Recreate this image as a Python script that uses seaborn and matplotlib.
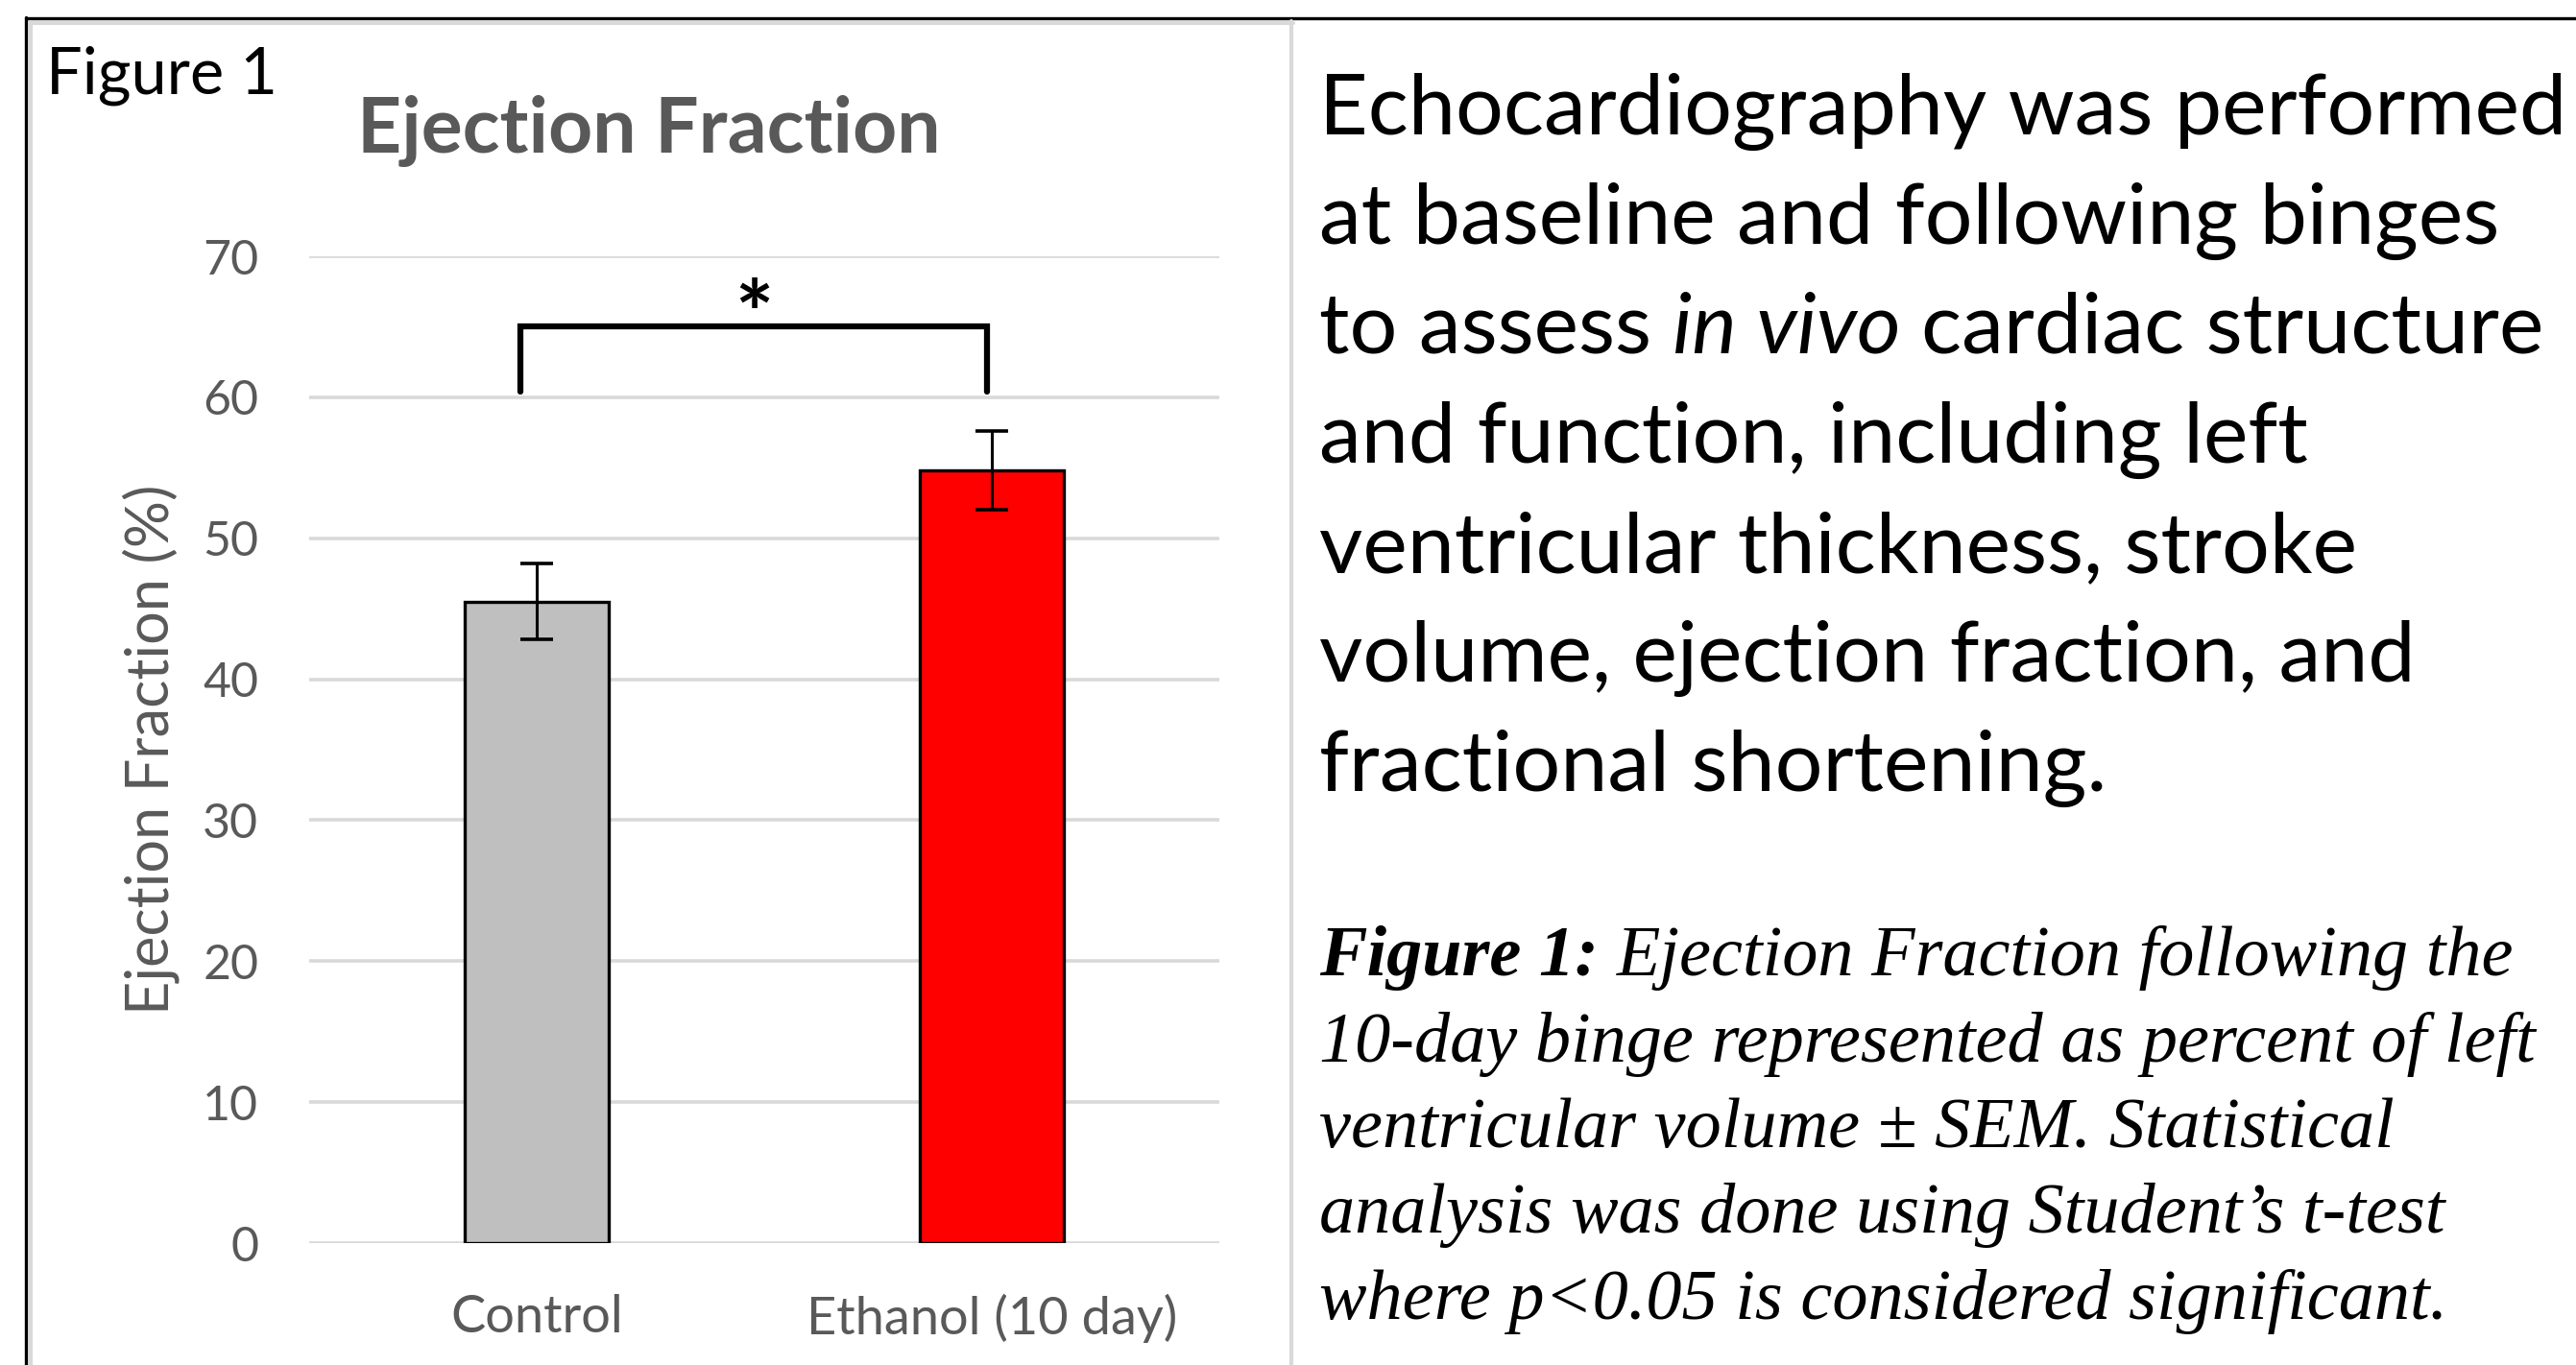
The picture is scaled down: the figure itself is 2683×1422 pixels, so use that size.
import matplotlib
matplotlib.use("Agg")
import matplotlib.pyplot as plt
import seaborn as sns
import pandas as pd
from matplotlib.lines import Line2D

# ---------------- data ----------------
categories = ["Control", "Ethanol (10 day)"]
ef_mean = [45.5, 54.8]
ef_sem = [2.7, 2.8]
bar_colors = ["#bfbfbf", "#ff0000"]
y_ticks = [0, 10, 20, 30, 40, 50, 60, 70]
sig_text = "*"

chart_title = "Ejection Fraction"
y_label = "Ejection Fraction (%)"
panel_label = "Figure 1"

body_lines = [
    [("Echocardiography was performed", "n")],
    [("at baseline and following binges", "n")],
    [("to assess", "n"), ("in vivo", "i"), ("cardiac structure", "n")],
    [("and function, including left", "n")],
    [("ventricular thickness, stroke", "n")],
    [("volume, ejection fraction, and", "n")],
    [("fractional shortening.", "n")],
]
caption_lines = [
    [("Figure 1:", "b"), ("Ejection Fraction following the", "i")],
    [("10-day binge represented as percent of left", "i")],
    [("ventricular volume \u00b1 SEM. Statistical", "i")],
    [("analysis was done using Student\u2019s t-test", "i")],
    [("where p<0.05 is considered significant.", "i")],
]

# ---------------- figure ----------------
sns.set_theme(style="white")
plt.rcParams["font.family"] = ["Lato", "DejaVu Sans"]

W, H = 2683, 1422
fig = plt.figure(figsize=(W / 100, H / 100), dpi=100)
fig.patch.set_facecolor("white")

ax_l, ax_r, ax_t, ax_b = 322, 1270, 267, 1295
ax = fig.add_axes([ax_l / W, 1 - ax_b / H, (ax_r - ax_l) / W, (ax_b - ax_t) / H])

df = pd.DataFrame({"group": categories, "ef": ef_mean})
sns.barplot(data=df, x="group", y="ef", hue="group", palette=bar_colors,
            saturation=1, legend=False, width=0.315, edgecolor="black",
            linewidth=2.4, errorbar=None, ax=ax, zorder=3)
ax.errorbar(x=list(range(len(categories))), y=ef_mean, yerr=ef_sem, fmt="none",
            ecolor="black", elinewidth=2.2, capsize=12, capthick=2.6, zorder=4)

ax.set_xlim(-0.5, 1.5)
ax.set_ylim(0, 70)
ax.set_yticks(y_ticks)
ax.yaxis.grid(True, color="#d9d9d9", linewidth=2.6)
ax.xaxis.grid(False)
ax.set_axisbelow(True)
for s in ax.spines.values():
    s.set_visible(False)
ax.tick_params(axis="both", length=0, colors="#595959", labelsize=36)
ax.tick_params(axis="y", pad=38)
ax.tick_params(axis="x", pad=38, labelsize=39)
ax.set_xlabel("")
ax.set_ylabel(y_label, fontsize=44, color="#595959")
ax.yaxis.label.set_va("center")
ax.yaxis.set_label_coords((157 - ax_l) / (ax_r - ax_l), 0.5)

# significance bracket
bx0, bx1, by_top, by_bot = -0.035, 0.99, 65.0, 60.4
ax.plot([bx0, bx0, bx1, bx1], [by_bot, by_top, by_top, by_bot], color="black",
        linewidth=4.5, solid_joinstyle="miter", zorder=5, clip_on=False)
ax.text(0.478, 65.5, sig_text, ha="center", va="center", fontsize=68,
        fontweight="bold", color="black")

# titles
fig.text(676 / W, 1 - 159 / H, chart_title, ha="center", va="baseline",
         fontsize=58, fontweight="bold", color="#595959")
fig.text(48 / W, 1 - 98 / H, panel_label, ha="left", va="baseline",
         fontsize=48, color="black")

# frame lines
def hline(y, x0, x1, color, lw):
    fig.add_artist(Line2D([x0 / W, x1 / W], [1 - y / H, 1 - y / H],
                          transform=fig.transFigure, color=color, linewidth=lw))

def vline(x, y0, y1, color, lw):
    fig.add_artist(Line2D([x / W, x / W], [1 - y0 / H, 1 - y1 / H],
                          transform=fig.transFigure, color=color, linewidth=lw))

hline(19, 27, W, "black", 2.4)
vline(27, 18, H, "black", 2.4)
hline(24, 31, 1347, "#d9d9d9", 3.0)
vline(32, 24, H, "#d9d9d9", 3.0)
vline(1345, 22, H, "#d9d9d9", 3.0)

# text runs
renderer = fig.canvas.get_renderer()

def text_width(s, **kw):
    t = fig.text(0, 0, s, **kw)
    w = t.get_window_extent(renderer).width
    t.remove()
    return w

def draw_runs(x_px, y_px, parts, styles):
    x = x_px
    for s, key in parts:
        kw = styles[key]
        t = fig.text(x / W, 1 - y_px / H, s, ha="left", va="baseline", **kw)
        bb = t.get_window_extent(renderer)
        sp = text_width("n n", **kw) - text_width("nn", **kw)
        x = bb.x1 + sp

body_styles = {
    "n": dict(fontsize=63.3, color="black", family=["Lato", "DejaVu Sans"]),
    "i": dict(fontsize=63.3, color="black", style="italic", family=["Lato", "DejaVu Sans"]),
}
cap_styles = {
    "i": dict(fontsize=53.5, color="black", style="italic",
              family=["Liberation Serif", "DejaVu Serif"]),
    "b": dict(fontsize=53.5, color="black", style="italic", fontweight="bold",
              family=["Liberation Serif", "DejaVu Serif"]),
}

for k, parts in enumerate(body_lines):
    draw_runs(1374, 140 + k * 114, parts, body_styles)
for k, parts in enumerate(caption_lines):
    draw_runs(1374, 1016 + k * 89.5, parts, cap_styles)

fig.savefig("out.png", dpi=100, facecolor="white")
